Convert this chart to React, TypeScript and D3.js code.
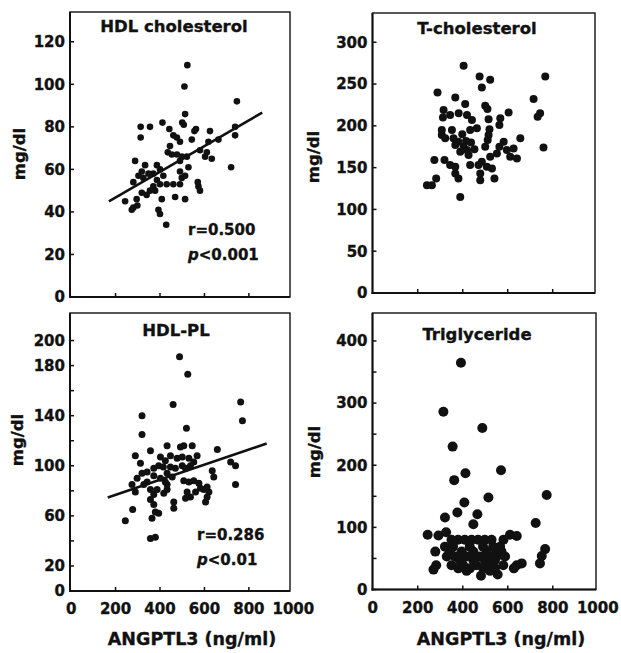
import React from "react";
import * as d3 from "d3";

type Pt = [number, number];

// ANGPTL3 (ng/ml) vs lipid (mg/dl)
const hdlCholesterol: Pt[] = [
  [523, 109], [510, 99], [746, 92], [513, 86], [500, 82], [507, 81], [411, 82], [313, 80],
  [355, 80], [442, 79], [562, 79], [555, 78], [625, 78], [738, 80], [738, 76], [313, 75],
  [460, 76], [476, 75], [543, 74], [490, 73], [663, 74], [618, 73], [445, 71], [580, 69],
  [611, 68], [603, 66], [633, 65], [435, 68], [453, 67], [476, 67], [498, 66], [521, 66],
  [288, 64], [333, 62], [386, 62], [490, 64], [720, 61], [400, 60], [528, 61], [490, 59],
  [318, 59], [348, 58], [370, 58], [415, 57], [303, 57], [325, 56], [280, 54], [386, 55],
  [498, 56], [513, 57], [570, 54], [573, 52], [580, 50], [370, 52], [400, 53], [430, 53],
  [460, 53], [490, 53], [355, 50], [378, 50], [318, 49], [340, 48], [295, 46], [408, 46],
  [468, 47], [513, 46], [243, 45], [280, 42], [273, 41], [298, 43], [393, 41], [400, 39],
  [428, 34],
];

const tCholesterol: Pt[] = [
  [404, 272], [475, 259], [522, 255], [485, 246], [767, 259], [288, 240], [367, 234], [715, 232],
  [411, 226], [500, 224], [510, 220], [744, 215], [733, 211], [315, 219], [604, 216], [567, 209],
  [515, 208], [312, 210], [344, 213], [382, 215], [419, 213], [441, 207], [463, 197], [433, 195],
  [519, 196], [563, 201], [307, 195], [352, 195], [307, 189], [322, 185], [359, 185], [381, 181],
  [367, 177], [404, 175], [389, 169], [419, 171], [426, 165], [511, 183], [515, 189], [500, 175],
  [563, 175], [582, 181], [656, 185], [759, 174], [552, 167], [596, 171], [626, 173], [641, 161],
  [611, 163], [522, 163], [485, 157], [470, 153], [433, 153], [274, 159], [319, 159], [344, 153],
  [367, 151], [507, 151], [530, 149], [367, 143], [381, 137], [478, 143], [478, 135], [541, 137],
  [282, 137], [241, 129], [263, 129], [389, 115], [398, 190], [437, 180], [452, 172], [415, 182],
];

const hdlPl: Pt[] = [
  [488, 187], [525, 173], [459, 149], [763, 151], [319, 140], [771, 136], [519, 130], [319, 125],
  [357, 112], [432, 116], [492, 115], [507, 116], [545, 116], [658, 113], [289, 108], [312, 102],
  [402, 107], [424, 104], [447, 108], [477, 106], [500, 107], [530, 106], [567, 108], [552, 103],
  [537, 100], [500, 100], [515, 98], [718, 103], [740, 100], [447, 99], [469, 98], [372, 98],
  [394, 100], [415, 99], [635, 96], [642, 91], [319, 94], [342, 95], [372, 92], [432, 94],
  [455, 91], [297, 90], [342, 87], [402, 90], [424, 87], [432, 85], [507, 88], [530, 87],
  [552, 88], [575, 86], [612, 83], [597, 81], [582, 82], [560, 79], [740, 85], [274, 85],
  [289, 79], [327, 85], [357, 81], [387, 81], [372, 77], [417, 78], [432, 81], [522, 79],
  [537, 75], [515, 74], [620, 79], [612, 75], [605, 71], [462, 71], [462, 66], [357, 73],
  [372, 69], [379, 63], [394, 62], [364, 58], [277, 65], [244, 56], [357, 42], [379, 43],
];

const triglyceride: Pt[] = [
  [392, 365], [314, 286], [487, 260], [355, 230], [570, 192], [412, 187], [362, 176], [773, 152],
  [514, 148], [407, 140], [321, 116], [376, 124], [465, 121], [447, 105], [724, 107], [244, 88],
  [292, 87], [326, 92], [610, 88], [640, 86], [581, 80], [566, 69], [551, 61], [766, 65],
  [751, 54], [743, 42], [278, 61], [321, 69], [329, 53], [270, 32], [282, 39], [640, 39],
  [662, 42], [627, 34], [481, 22], [555, 24],
  [350, 80], [379, 80], [409, 80], [439, 80], [468, 80], [498, 80], [528, 80],
  [357, 69], [431, 69], [490, 69], [535, 69],
  [343, 61], [395, 61], [447, 61], [506, 61], [572, 61],
  [365, 53], [417, 53], [476, 53], [521, 53], [551, 53], [588, 53],
  [387, 47], [447, 47], [498, 47], [543, 47],
  [350, 39], [402, 39], [461, 39], [521, 39], [580, 39],
  [380, 34], [432, 34], [491, 34], [543, 34],
  [417, 30], [521, 30],
];

// regression lines: y = a + b*x over [x0, x1]
const hdlCholesterolFit = { a: 34.6, b: 0.0606, x0: 170, x1: 860 };
const hdlPlFit = { a: 64.7, b: 0.0603, x0: 165, x1: 880 };

const xTicks = [200, 400, 600, 800];
const xTickLabels = [0, 200, 400, 600, 800, 1000];

const FONT = "'DejaVu Sans', Arial, sans-serif";
const INK = "#111";

type Fit = { a: number; b: number; x0: number; x1: number };

interface PanelProps {
  title: string;
  titleX: number;
  titleY: number;
  data: Pt[];
  r: number;
  box: { left: number; right: number; top: number; bottom: number };
  xDomain: [number, number];
  yMax: number;
  yTicks: number[];
  yLabels: number[];
  xLabelX?: number;
  yLabelPos: [number, number];
  fit?: Fit;
  stats?: { r: string; p: string; x: number; y: number };
}

function Panel(p: PanelProps) {
  const { left, right, top, bottom } = p.box;
  const x = d3.scaleLinear().domain(p.xDomain).range([left, right]);
  const y = d3.scaleLinear().domain([0, p.yMax]).range([bottom, top]);
  const line = d3
    .line<number>()
    .x((v) => x(v))
    .y((v) => y(p.fit ? p.fit.a + p.fit.b * v : 0));
  const showX = p.xLabelX !== undefined;

  return (
    <g fontFamily={FONT} fontWeight="bold" fill={INK} stroke={INK} strokeWidth={0.35}>
      {/* frame */}
      <rect x={left} y={top} width={right - left} height={bottom - top} fill="none" stroke={INK} strokeWidth={1.4} />
      <line x1={left} x2={left} y1={top} y2={bottom + 1} stroke={INK} strokeWidth={2} />
      <line x1={left - 1} x2={right} y1={bottom} y2={bottom} stroke={INK} strokeWidth={2} />

      {/* y ticks */}
      {p.yTicks.map((t) => (
        <line key={"yt" + t} x1={left} x2={left + 4} y1={y(t)} y2={y(t)} stroke={INK} strokeWidth={1.5} />
      ))}
      {p.yLabels.map((t) => (
        <text key={"yl" + t} x={left - 5} y={y(t)} dy="0.36em" textAnchor="end" fontSize={15}>
          {t}
        </text>
      ))}

      {/* x ticks */}
      {xTicks.map((t) => (
        <line key={"xt" + t} x1={x(t)} x2={x(t)} y1={bottom} y2={bottom - 4} stroke={INK} strokeWidth={1.5} />
      ))}
      {showX &&
        xTickLabels.map((t) => (
          <text key={"xl" + t} x={x(t)} y={bottom + 23} textAnchor="middle" fontSize={15}>
            {t}
          </text>
        ))}
      {showX && (
        <text x={p.xLabelX} y={645} textAnchor="middle" fontSize={17.5}>
          ANGPTL3 (ng/ml)
        </text>
      )}

      <text
        transform={`translate(${p.yLabelPos[0]},${p.yLabelPos[1]}) rotate(-90)`}
        textAnchor="middle"
        dy="0.36em"
        fontSize={16.5}
      >
        mg/dl
      </text>

      <text x={p.titleX} y={p.titleY} textAnchor="middle" fontSize={16.5}>
        {p.title}
      </text>

      {p.data.map((d, i) => (
        <circle key={i} cx={x(d[0])} cy={y(d[1])} r={p.r} fill={INK} stroke="none" />
      ))}

      {p.fit && (
        <path d={line([p.fit.x0, p.fit.x1]) ?? ""} fill="none" stroke={INK} strokeWidth={2.6} />
      )}

      {p.stats && (
        <>
          <text x={p.stats.x} y={p.stats.y} fontSize={15}>
            {p.stats.r}
          </text>
          <text x={p.stats.x} y={p.stats.y + 25} fontSize={15}>
            <tspan fontStyle="italic">p</tspan>
            {p.stats.p}
          </text>
        </>
      )}
    </g>
  );
}

export default function App() {
  return (
    <svg
      width={621}
      height={653}
      style={{ position: "absolute", left: 0, top: 0, background: "#fff" }}
    >
      <Panel
        title="HDL cholesterol"
        titleX={174}
        titleY={32}
        data={hdlCholesterol}
        r={3.3}
        box={{ left: 70, right: 290, top: 12, bottom: 297 }}
        xDomain={[-5, 985]}
        yMax={134}
        yTicks={d3.range(0, 121, 20)}
        yLabels={d3.range(0, 121, 20)}
        yLabelPos={[19, 154]}
        fit={hdlCholesterolFit}
        stats={{ r: "r=0.500", p: "<0.001", x: 188, y: 235 }}
      />
      <Panel
        title="T-cholesterol"
        titleX={477}
        titleY={34}
        data={tCholesterol}
        r={4}
        box={{ left: 372.5, right: 595, top: 13, bottom: 293 }}
        xDomain={[-1, 988]}
        yMax={335}
        yTicks={d3.range(0, 301, 50)}
        yLabels={d3.range(0, 301, 50)}
        yLabelPos={[313.5, 157]}
      />
      <Panel
        title="HDL-PL"
        titleX={176}
        titleY={336}
        data={hdlPl}
        r={3.5}
        box={{ left: 70, right: 290, top: 313, bottom: 591 }}
        xDomain={[-5, 985]}
        yMax={222}
        yTicks={d3.range(0, 201, 20)}
        yLabels={[0, 20, 60, 100, 140, 180, 200]}
        xLabelX={192}
        yLabelPos={[17, 440]}
        fit={hdlPlFit}
        stats={{ r: "r=0.286", p: "<0.01", x: 197, y: 540 }}
      />
      <Panel
        title="Triglyceride"
        titleX={477}
        titleY={340}
        data={triglyceride}
        r={5}
        box={{ left: 372.5, right: 596, top: 313, bottom: 589.5 }}
        xDomain={[-1, 992]}
        yMax={445}
        yTicks={d3.range(0, 401, 50)}
        yLabels={d3.range(0, 401, 100)}
        xLabelX={501}
        yLabelPos={[314, 452]}
      />
    </svg>
  );
}
